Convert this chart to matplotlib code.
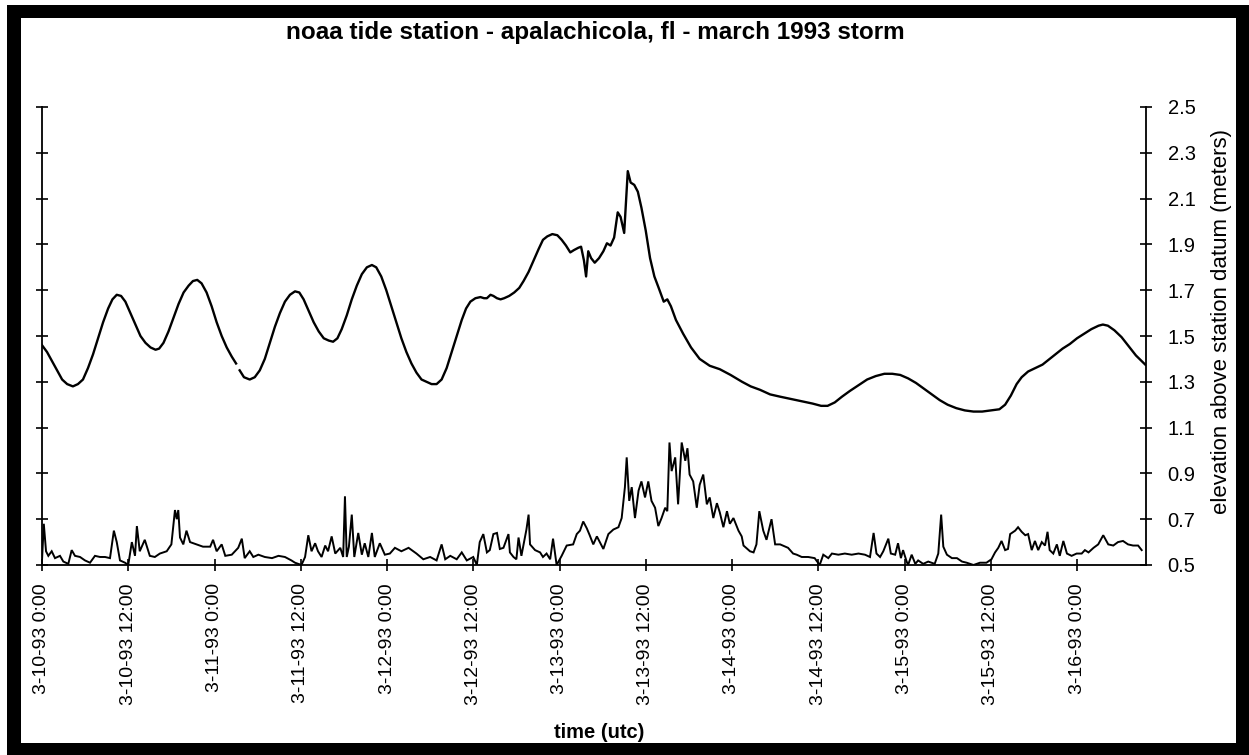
import numpy as np
import matplotlib
matplotlib.use("Agg")
import matplotlib.pyplot as plt
from matplotlib.patches import Rectangle

plt.rcParams['font.family'] = ['Liberation Sans', 'DejaVu Sans']

# ---------------- data ----------------
title = "noaa tide station - apalachicola, fl - march 1993 storm"
x_label = "time (utc)"
y_label = "elevation above station datum (meters)"

tick_hours = [0, 12, 24, 36, 48, 60, 72, 84, 96, 108, 120, 132, 144]
tick_labels = ["3-10-93 0:00", "3-10-93 12:00", "3-11-93 0:00", "3-11-93 12:00",
               "3-12-93 0:00", "3-12-93 12:00", "3-13-93 0:00", "3-13-93 12:00",
               "3-14-93 0:00", "3-14-93 12:00", "3-15-93 0:00", "3-15-93 12:00",
               "3-16-93 0:00"]
y_ticks = [0.5, 0.7, 0.9, 1.1, 1.3, 1.5, 1.7, 1.9, 2.1, 2.3, 2.5]

# water level (hours since 3-10-93 0:00, meters); NaN marks the gap in the record
tide_hours = [0, 0.7, 1.4, 2.1, 2.8, 3.5, 4.3, 5.0, 5.7, 6.4, 7.1, 7.8, 8.5, 9.2, 9.8,
              10.4, 11.0, 11.6, 12.3, 13.0, 13.7, 14.4, 15.1, 15.8, 16.3, 16.9, 17.6,
              18.3, 19.0, 19.7, 20.4, 21.0, 21.6, 22.2, 22.9, 23.6, 24.3, 25.0, 25.7,
              26.4, 27.0, 27.2, 27.5, 28.1, 28.9, 29.6, 30.3, 31.0, 31.7, 32.4, 33.1,
              33.8, 34.5, 35.2, 35.8, 36.4, 37.1, 37.8, 38.5, 39.2, 39.9, 40.5, 41.1,
              41.7, 42.4, 43.1, 43.8, 44.5, 45.2, 45.9, 46.5, 47.2, 47.9, 48.6, 49.3,
              50.0, 50.7, 51.4, 52.1, 52.8, 53.5, 54.2, 54.9, 55.6, 56.3, 57.0, 57.7,
              58.4, 59.0, 59.6, 60.3, 61.0, 61.5, 61.9, 62.4, 62.8, 63.3, 63.8, 64.3,
              65.0, 65.7, 66.4, 67.0, 67.7, 68.4, 69.1, 69.7, 70.3, 71.0, 71.7, 72.3,
              72.9, 73.5, 74.0, 74.6, 75.0, 75.4, 75.7, 76.0, 76.4, 76.9, 77.5, 78.1,
              78.6, 79.1, 79.6, 80.1, 80.5, 81.0, 81.5, 81.9, 82.4, 82.9, 83.4, 84.0,
              84.6, 85.2, 85.8, 86.5, 87.0, 87.5, 88.2, 89.2, 90.3, 91.5, 92.9, 94.3,
              95.8, 97.4, 98.6, 99.9, 101.3, 102.7, 104.2, 105.7, 107.2, 108.4, 109.3,
              110.3, 111.3, 112.4, 113.6, 114.8, 116.0, 117.2, 118.3, 119.4, 120.5,
              121.6, 122.7, 123.8, 124.9, 126.0, 127.2, 128.4, 129.6, 130.8, 132.0,
              133.2, 134.0, 134.8, 135.6, 136.3, 137.2, 138.2, 139.2, 140.0, 141.0,
              142.0, 143.0, 144.0, 145.0, 146.0, 147.0, 147.6, 148.3, 149.2, 150.2,
              151.2, 152.2, 153.5]
tide_level = [1.46, 1.43, 1.39, 1.35, 1.31, 1.29, 1.28, 1.29, 1.31, 1.36, 1.42, 1.49,
              1.56, 1.62, 1.66, 1.68, 1.675, 1.65, 1.60, 1.55, 1.50, 1.47, 1.45, 1.44,
              1.445, 1.47, 1.52, 1.58, 1.64, 1.69, 1.72, 1.74, 1.745, 1.73, 1.69, 1.63,
              1.56, 1.50, 1.45, 1.41, 1.38, np.nan, 1.35, 1.32, 1.31, 1.32, 1.35, 1.40,
              1.47, 1.54, 1.60, 1.65, 1.68, 1.695, 1.69, 1.66, 1.61, 1.56, 1.52, 1.49,
              1.48, 1.475, 1.49, 1.53, 1.59, 1.66, 1.72, 1.77, 1.80, 1.81, 1.80, 1.76,
              1.70, 1.63, 1.56, 1.49, 1.43, 1.38, 1.34, 1.31, 1.30, 1.29, 1.29, 1.31,
              1.36, 1.43, 1.50, 1.57, 1.62, 1.65, 1.665, 1.67, 1.665, 1.665, 1.68,
              1.675, 1.665, 1.66, 1.665, 1.675, 1.69, 1.71, 1.74, 1.78, 1.83, 1.88,
              1.92, 1.935, 1.945, 1.94, 1.92, 1.895, 1.865, 1.875, 1.885, 1.89, 1.83,
              1.76, 1.87, 1.84, 1.82, 1.84, 1.87, 1.905, 1.895, 1.93, 2.04, 2.02, 1.95,
              2.22, 2.17, 2.16, 2.13, 2.06, 1.96, 1.84, 1.76, 1.71, 1.65, 1.66, 1.63,
              1.57, 1.51, 1.45, 1.40, 1.37, 1.355, 1.33, 1.30, 1.28, 1.265, 1.245,
              1.235, 1.225, 1.215, 1.205, 1.195, 1.195, 1.21, 1.235, 1.26, 1.285, 1.31,
              1.325, 1.335, 1.335, 1.33, 1.315, 1.295, 1.27, 1.245, 1.22, 1.2, 1.185,
              1.175, 1.17, 1.17, 1.175, 1.18, 1.2, 1.24, 1.29, 1.32, 1.345, 1.36, 1.375,
              1.395, 1.42, 1.445, 1.465, 1.49, 1.51, 1.53, 1.545, 1.55, 1.545, 1.525,
              1.495, 1.455, 1.415, 1.375]

# lower (unlabelled, left-axis) series
low_hours = [0.0, 0.25, 0.56, 0.88, 1.35, 1.81, 2.5, 2.97, 3.66, 4.13, 4.59, 5.29, 5.98,
             6.68, 7.37, 8.07, 8.77, 9.46, 10.0, 10.4, 10.85, 11.55, 12.0, 12.5, 12.94,
             13.2, 13.6, 14.3, 15.0, 15.7, 16.4, 17.35, 18.0, 18.5, 18.75, 18.96, 19.2,
             19.66, 20.1, 20.6, 21.5, 22.4, 23.4, 23.8, 24.3, 25.0, 25.5, 26.4, 27.3,
             27.8, 28.2, 28.9, 29.4, 30.1, 31.0, 32.0, 32.9, 33.8, 34.7, 35.2, 36.1,
             36.6, 37.05, 37.5, 38.0, 38.4, 38.9, 39.4, 39.8, 40.3, 40.8, 41.5, 41.9,
             42.15, 42.4, 42.7, 43.1, 43.45, 44.0, 44.5, 44.9, 45.4, 45.9, 46.3, 47.0,
             47.7, 48.4, 49.1, 50.0, 51.0, 52.1, 53.05, 54.0, 54.9, 55.6, 56.1, 56.8,
             57.7, 58.4, 59.1, 60.0, 60.5, 60.9, 61.4, 61.9, 62.3, 62.8, 63.3, 63.7,
             64.2, 64.9, 65.1, 65.6, 66.0, 66.3, 66.7, 67.4, 67.7, 67.9, 68.6, 69.3,
             69.7, 70.2, 70.7, 71.1, 71.6, 72.3, 73.0, 73.9, 74.4, 74.85, 75.3, 75.8,
             76.2, 76.7, 77.2, 78.1, 78.8, 79.5, 80.2, 80.65, 81.1, 81.35, 81.7, 82.05,
             82.5, 83.0, 83.4, 83.9, 84.35, 84.8, 85.3, 85.75, 86.2, 86.7, 87.0, 87.3,
             87.6, 88.1, 88.5, 89.0, 89.5, 89.8, 90.1, 90.6, 91.1, 91.5, 92.0, 92.5,
             92.9, 93.4, 93.9, 94.3, 94.8, 95.3, 95.7, 96.2, 96.9, 97.35, 97.6, 98.5,
             99.0, 99.4, 99.8, 100.35, 100.8, 101.5, 102.0, 102.7, 103.8, 104.5, 105.0,
             105.7, 106.6, 107.5, 108.2, 108.7, 109.4, 109.9, 110.8, 111.7, 112.65,
             113.6, 114.5, 115.2, 115.7, 116.1, 116.6, 117.05, 117.75, 118.1, 118.7,
             119.1, 119.5, 119.8, 120.3, 120.5, 121.0, 121.5, 121.9, 122.6, 123.3,
             124.2, 124.7, 125.1, 125.4, 125.9, 126.6, 127.3, 128.0, 128.65, 129.6,
             130.5, 131.4, 132.1, 132.6, 133.05, 133.5, 134.0, 134.4, 134.7, 135.4,
             135.8, 136.3, 136.8, 137.2, 137.7, 138.15, 138.6, 139.1, 139.55, 139.9,
             140.2, 140.7, 141.2, 141.6, 142.1, 142.6, 143.25, 143.95, 144.65, 145.1,
             145.6, 146.3, 146.95, 147.65, 148.35, 149.05, 149.7, 150.4, 151.1, 151.8,
             152.5, 153.0]
low_level = [0.52, 0.68, 0.56, 0.54, 0.56, 0.53, 0.54, 0.515, 0.505, 0.565, 0.54, 0.535,
             0.52, 0.51, 0.54, 0.535, 0.535, 0.53, 0.65, 0.60, 0.52, 0.51, 0.50, 0.60,
             0.54, 0.67, 0.56, 0.61, 0.54, 0.535, 0.55, 0.56, 0.59, 0.74, 0.70, 0.74,
             0.62, 0.59, 0.65, 0.60, 0.59, 0.58, 0.58, 0.61, 0.56, 0.59, 0.54, 0.545,
             0.575, 0.615, 0.53, 0.56, 0.535, 0.545, 0.535, 0.53, 0.54, 0.535, 0.52,
             0.51, 0.50, 0.535, 0.63, 0.56, 0.595, 0.56, 0.535, 0.585, 0.56, 0.625,
             0.55, 0.575, 0.535, 0.80, 0.535, 0.58, 0.72, 0.535, 0.64, 0.545, 0.595,
             0.535, 0.64, 0.535, 0.595, 0.545, 0.55, 0.575, 0.56, 0.575, 0.55, 0.525,
             0.535, 0.52, 0.59, 0.525, 0.54, 0.525, 0.555, 0.52, 0.535, 0.50, 0.60,
             0.635, 0.555, 0.565, 0.635, 0.64, 0.57, 0.575, 0.635, 0.555, 0.535, 0.525,
             0.62, 0.54, 0.655, 0.72, 0.59, 0.565, 0.555, 0.535, 0.55, 0.525, 0.615,
             0.50, 0.54, 0.585, 0.59, 0.635, 0.65, 0.69, 0.66, 0.63, 0.59, 0.625, 0.57,
             0.635, 0.655, 0.665, 0.705, 0.84, 0.97, 0.78, 0.84, 0.705, 0.825, 0.865,
             0.795, 0.865, 0.78, 0.75, 0.67, 0.705, 0.75, 0.735, 1.035, 0.91, 0.97,
             0.765, 1.035, 0.955, 1.01, 0.895, 0.865, 0.75, 0.85, 0.895, 0.765, 0.795,
             0.705, 0.77, 0.73, 0.665, 0.735, 0.68, 0.705, 0.65, 0.625, 0.585, 0.56,
             0.555, 0.59, 0.735, 0.65, 0.61, 0.70, 0.59, 0.59, 0.575, 0.55, 0.545,
             0.535, 0.535, 0.53, 0.50, 0.545, 0.53, 0.55, 0.545, 0.55, 0.545, 0.55,
             0.545, 0.535, 0.64, 0.55, 0.535, 0.56, 0.615, 0.55, 0.545, 0.595, 0.53,
             0.565, 0.515, 0.50, 0.545, 0.505, 0.52, 0.505, 0.515, 0.505, 0.55, 0.72,
             0.58, 0.545, 0.53, 0.53, 0.515, 0.51, 0.50, 0.51, 0.51, 0.525, 0.555,
             0.575, 0.605, 0.565, 0.57, 0.635, 0.65, 0.665, 0.645, 0.63, 0.635, 0.565,
             0.605, 0.565, 0.60, 0.585, 0.645, 0.565, 0.55, 0.59, 0.54, 0.605, 0.55,
             0.54, 0.55, 0.55, 0.565, 0.555, 0.575, 0.59, 0.63, 0.59, 0.585, 0.60,
             0.605, 0.59, 0.585, 0.585, 0.565]

# ---------------- figure ----------------
W, H, DPI = 1249, 755, 100
fig = plt.figure(figsize=(W / DPI, H / DPI), dpi=DPI)
fig.patch.set_facecolor('white')

ax = fig.add_axes([42 / W, 1 - 565 / H, (1146 - 42) / W, (565 - 107) / H])
ax.plot(tide_hours, tide_level, color='black', lw=1.7, solid_joinstyle='round')
ax.plot(low_hours, low_level, color='black', lw=1.4, solid_joinstyle='miter')

ax.set_xlim(0, 153.6)
ax.set_ylim(0.5, 2.5)

ax.spines['top'].set_visible(False)
for s in ('left', 'right', 'bottom'):
    ax.spines[s].set_linewidth(1.3)

ax.set_xticks(tick_hours)
ax.set_xticklabels(tick_labels, rotation=90, fontsize=14)
ax.set_yticks(y_ticks)
ax.set_yticklabels([f"{v:.1f}" for v in y_ticks], fontsize=14.5)
ax.yaxis.set_ticks_position('both')
ax.tick_params(axis='y', direction='inout', length=9, width=1.2,
               labelleft=False, labelright=True, pad=11)
ax.tick_params(axis='x', direction='inout', length=8, width=1.2, pad=9)

# right-hand axis title, placed explicitly
fig.text(1222 / W, 1 - 322 / H, y_label, rotation=90, ha='center', va='center',
         fontsize=16)

fig.text(595 / W, 1 - 33 / H, title, ha='center', va='center',
         fontsize=17.5, fontweight='bold')
fig.text(599 / W, 1 - 733 / H, x_label, ha='center', va='center',
         fontsize=14.5, fontweight='bold')

# scanned black frame
def frame(x0, y0, x1, y1):
    fig.add_artist(Rectangle((x0 / W, 1 - y1 / H), (x1 - x0) / W, (y1 - y0) / H,
                             transform=fig.transFigure, facecolor='black',
                             edgecolor='none'))

frame(7, 5, 21, 755)
frame(7, 5, 1249, 18)
frame(1236, 5, 1249, 755)
frame(7, 743, 1249, 755)

fig.savefig("out.png", dpi=DPI)
